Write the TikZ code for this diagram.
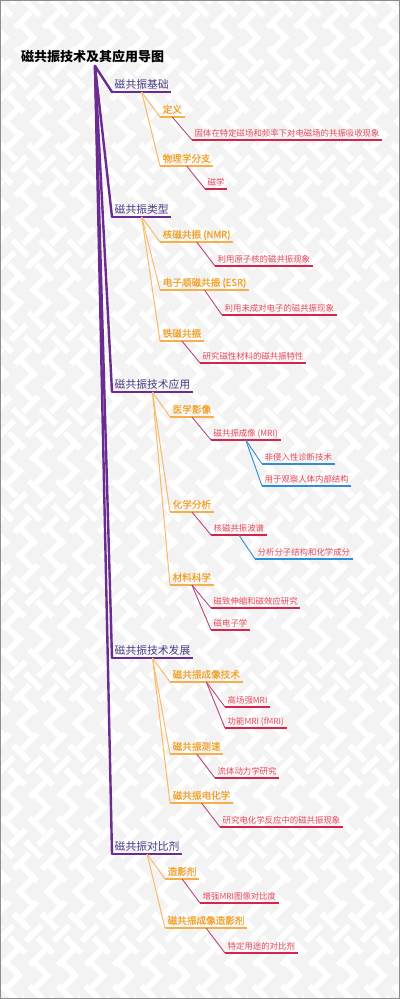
\documentclass[tikz,border=0pt]{standalone}
\usepackage{fontspec}
\setmainfont{Noto Sans CJK SC}
\newfontfamily\semibfont[FakeBold=0.35]{Noto Sans CJK SC}
\usetikzlibrary{calc}
\definecolor{bgc}{HTML}{F3F3F3}
\definecolor{frame}{HTML}{8C8C8C}
\definecolor{lonetext}{HTML}{4B3B84}
\definecolor{loneline}{HTML}{6B2C91}
\definecolor{ltwotext}{HTML}{F2A124}
\definecolor{ltwoline}{HTML}{F5B04A}
\definecolor{ltwocn}{HTML}{F7BB6A}
\definecolor{lthreetext}{HTML}{E84A5C}
\definecolor{lthreeline}{HTML}{D6254D}
\definecolor{lthreecn}{HTML}{B8467F}
\definecolor{lfourline}{HTML}{2F8FD0}
\tikzset{
  lv0/.style={font=\fontsize{13}{15}\selectfont\bfseries, text=black, inner sep=0pt},
  lv1/.style={font=\fontsize{10.8}{12}\selectfont, text=lonetext, inner xsep=2.5pt, inner ysep=0pt},
  lv2/.style={font=\semibfont\fontsize{9.6}{11}\selectfont, text=ltwotext, inner xsep=2.5pt, inner ysep=0pt},
  lv3/.style={font=\fontsize{8.4}{10}\selectfont, text=lthreetext, inner xsep=2.5pt, inner ysep=0pt},
  lv4/.style={font=\fontsize{8.4}{10}\selectfont, text=lthreetext, inner xsep=2.5pt, inner ysep=0pt},
  ul1/.style={draw=loneline, line width=2pt},
  ul2/.style={draw=ltwoline, line width=1.4pt},
  ul3/.style={draw=lthreeline, line width=1.4pt},
  ul4/.style={draw=lfourline, line width=1.3pt},
  cn1/.style={draw=loneline, line width=2.4pt, line cap=round},
  cn2/.style={draw=ltwocn, line width=1pt},
  cn3/.style={draw=lthreecn, line width=0.9pt},
  cn4/.style={draw=lfourline, line width=0.9pt},
}
\newcommand{\mmn}[5]{%
  \node[lv#4, anchor=base west] (#1) at (#2,#3-4) {#5};
  \coordinate (#1-l) at ($(#1.base west)+(0,4)$);
  \coordinate (#1-r) at ($(#1.base east)+(0,4)$);
  \coordinate (#1-m) at ($(#1.base)+(0,4)$);
  \draw[ul#4] (#1-l) -- (#1-r);
}
\begin{document}
\begin{tikzpicture}[x=1pt,y=-1pt]
\useasboundingbox (0,0) rectangle (400,999);
\fill[bgc] (0,0) rectangle (400,999);
\begin{scope}
  \clip (0,0) rectangle (400,999);
  \foreach \k in {-1012,-984,...,420} {
    \draw[white, line width=6pt, dash pattern=on 22pt off 12pt] (\k,0) -- (\k+999,999);
    \draw[white, line width=6pt, dash pattern=on 22pt off 12pt, dash phase=17pt] (\k+999,0) -- (\k,999);
  }
\end{scope}
\draw[frame, line width=1.2pt] (0.6,0.6) rectangle (399.4,998.4);

% title
\node[lv0, anchor=west] (title) at (21,57) {磁共振技术及其应用导图};
\coordinate (root) at (95,66);

% level 1
\mmn{a1}{112}{92}{1}{磁共振基础}
\mmn{a2}{112}{217}{1}{磁共振类型}
\mmn{a3}{112}{392}{1}{磁共振技术应用}
\mmn{a4}{112}{658}{1}{磁共振技术发展}
\mmn{a5}{112}{854}{1}{磁共振对比剂}

% level 2
\mmn{b11}{160}{117}{2}{定义}
\mmn{b12}{160}{166}{2}{物理学分支}
\mmn{b21}{160}{242}{2}{核磁共振 (NMR)}
\mmn{b22}{160}{290}{2}{电子顺磁共振 (ESR)}
\mmn{b23}{160}{341}{2}{铁磁共振}
\mmn{b31}{170}{417}{2}{医学影像}
\mmn{b32}{170}{512}{2}{化学分析}
\mmn{b33}{170}{585}{2}{材料科学}
\mmn{b41}{170}{682}{2}{磁共振成像技术}
\mmn{b42}{170}{754}{2}{磁共振测速}
\mmn{b43}{170}{803}{2}{磁共振电化学}
\mmn{b51}{165}{879}{2}{造影剂}
\mmn{b52}{165}{928}{2}{磁共振成像造影剂}

% level 3
\mmn{c111}{192}{140}{3}{固体在特定磁场和频率下对电磁场的共振吸收现象}
\mmn{c121}{205}{189}{3}{磁学}
\mmn{c211}{215}{266}{3}{利用原子核的磁共振现象}
\mmn{c221}{222}{315}{3}{利用未成对电子的磁共振现象}
\mmn{c231}{200}{363}{3}{研究磁性材料的磁共振特性}
\mmn{c311}{211}{440}{3}{磁共振成像 (MRI)}
\mmn{c321}{211}{535}{3}{核磁共振波谱}
\mmn{c331}{211}{608}{3}{磁致伸缩和磁效应研究}
\mmn{c332}{211}{630}{3}{磁电子学}
\mmn{c411}{225}{707}{3}{高场强MRI}
\mmn{c412}{225}{728}{3}{功能MRI (fMRI)}
\mmn{c421}{215}{778}{3}{流体动力学研究}
\mmn{c431}{220}{827}{3}{研究电化学反应中的磁共振现象}
\mmn{c511}{200}{903}{3}{增强MRI图像对比度}
\mmn{c521}{225}{953}{3}{特定用途的对比剂}

% level 4
\mmn{d1}{262}{464}{4}{非侵入性诊断技术}
\mmn{d2}{262}{486}{4}{用于观察人体内部结构}
\mmn{d3}{255}{559}{4}{分析分子结构和化学成分}

% connectors level 1
\foreach \n in {a1,a2,a3,a4,a5} \draw[cn1] (root) -- (\n-l);
% level 2
\foreach \p/\c in {a1/b11,a1/b12,a2/b21,a2/b22,a2/b23,a3/b31,a3/b32,a3/b33,a4/b41,a4/b42,a4/b43,a5/b51,a5/b52}
  \draw[cn2] (\p-m) -- (\c-l);
% level 3
\foreach \p/\c in {b11/c111,b12/c121,b21/c211,b22/c221,b23/c231,b31/c311,b32/c321,b33/c331,b33/c332,b41/c411,b41/c412,b42/c421,b43/c431,b51/c511,b52/c521}
  \draw[cn3] (\p-m) -- (\c-l);
% level 4
\foreach \p/\c in {c311/d1,c311/d2,c321/d3}
  \draw[cn4] (\p-m) -- (\c-l);
\end{tikzpicture}
\end{document}
